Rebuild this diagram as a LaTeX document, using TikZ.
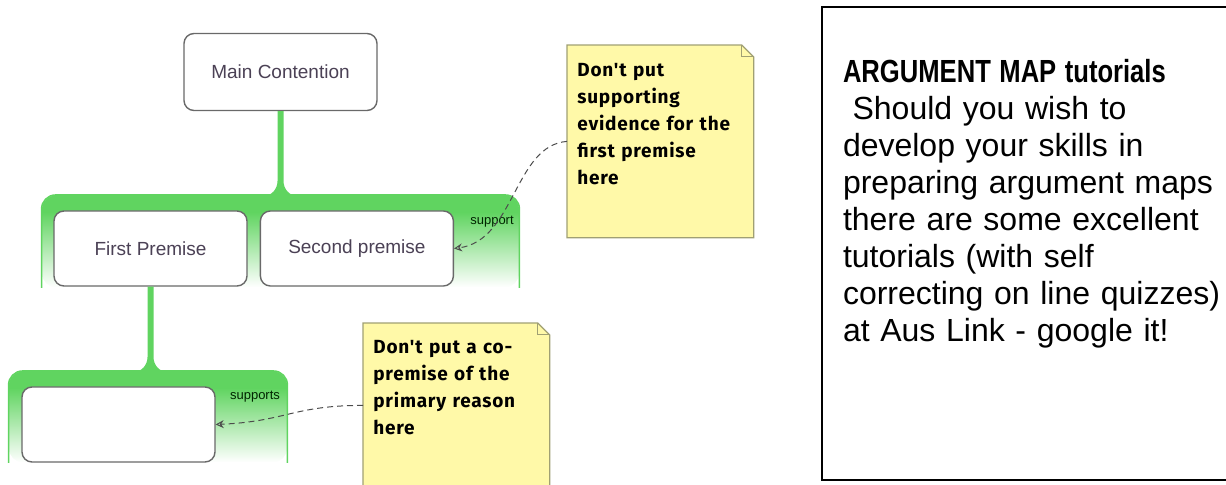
\documentclass[tikz,border=0pt]{standalone}
\usepackage{fontspec}
\setmainfont{Liberation Sans}
\newfontfamily\notefont[LetterSpace=4]{Fira Sans}
\usepackage{graphicx}
\usetikzlibrary{arrows.meta, calc, positioning}

\definecolor{grp}{RGB}{96,212,96}
\definecolor{notefill}{RGB}{255,249,168}
\definecolor{noteline}{RGB}{160,160,115}
\definecolor{boxline}{RGB}{105,105,105}
\definecolor{boxtext}{RGB}{75,65,85}

\pgfdeclareverticalshading{grpfade}{100bp}{color(0bp)=(white); color(25bp)=(white); color(66bp)=(grp); color(100bp)=(grp)}

% green stem from a claim down to its group
\newcommand{\stem}[2]{%
  \fill[grp] ($(#1.south)+(-3,0)$) -- ($(#1.south |- #2.north)+(-3,-14)$)
    to[out=-90,in=0] ($(#1.south |- #2.north)+(-17,1)$)
    -- ($(#1.south |- #2.north)+(17,1)$)
    to[out=180,in=-90] ($(#1.south |- #2.north)+(3,-14)$)
    -- ($(#1.south)+(3,0)$) -- cycle;}

% cut corner of a sticky note
\newcommand{\notefold}[1]{%
  \fill[white] ([xshift=-6pt]#1.north east) -- (#1.north east) -- ([yshift=-6pt]#1.north east) -- cycle;
  \draw[noteline, line width=0.6pt] (#1.south west) -- (#1.north west) -- ([xshift=-6pt]#1.north east)
    -- ([yshift=-6pt]#1.north east) -- (#1.south east) -- cycle;
  \draw[noteline, line width=0.5pt] ([xshift=-6pt]#1.north east) -- ([shift={(-6pt,-6pt)}]#1.north east)
    -- ([yshift=-6pt]#1.north east);}

\begin{document}
\begin{tikzpicture}[x=0.5pt, y=-0.5pt,
  argbox/.style={draw=boxline, line width=0.7pt, fill=white, rounded corners=5pt,
    minimum width=96.5pt, minimum height=37.5pt, inner sep=0pt, text=boxtext,
    font=\fontsize{9.5}{11}\selectfont},
  group/.style={anchor=north, shading=grpfade, rounded corners=7pt, inner sep=0pt},
  lbl/.style={text=black!65!green!40!black, inner sep=0pt, font=\fontsize{6.5}{7}\selectfont},
  note/.style={anchor=north west, fill=notefill, inner xsep=5pt, inner ysep=0pt,
    text width=83pt, align=left, font=\notefont\bfseries\fontsize{9.5}{13.5}\selectfont},
  tipline/.style={densely dashed, draw=black!70, line width=0.5pt,
    -{Stealth[open, length=4pt, width=4pt]}},
  panel/.style={anchor=north west, draw=black, line width=1pt, inner xsep=10.5pt,
    inner ysep=0pt, text width=200pt, align=left, text height=38pt, text depth=198.5pt,
    font=\fontsize{16}{18.5}\selectfont}]

  \useasboundingbox (0,0) rectangle (1226,485);

% define the green groups
  \node[group, minimum width=238.5pt, minimum height=46pt] (grpA) at (280.5,195) {};
  \node[group, minimum width=139pt, minimum height=45.5pt] (grpB) at (148,371) {};
  \foreach \g in {grpA, grpB}
    \draw[grp, line width=0.8pt, rounded corners=7pt] (\g.south west) -- (\g.north west)
      -- (\g.north east) -- (\g.south east);

% define the claims
  \node[argbox, minimum height=38.5pt] (main) at (280.5,72) {Main Contention};
  \node[argbox] (first) at (150.5,248.5) {First Premise};
  \node[argbox, right=6pt of first] (second) {Second premise};
  \node[argbox] (blank) at (118.5,424.5) {};

  \stem{main}{grpA}
  \stem{first}{grpB}

  \node[lbl] (lblA) at (492,222) {support};
  \node[lbl] (lblB) at (255,397) {supports};

% define the sticky notes
  \node[note, text height=15.5pt, text depth=80.5pt] (tipA) at (567,45)
    {Don't put\\ supporting\\ evidence for the\\ first premise\\ here};
  \notefold{tipA}
  \node[note, text height=15pt, text depth=67pt] (tipB) at (363,323)
    {Don't put a co-\\ premise of the\\ primary reason\\ here};
  \notefold{tipB}

% define the links
  \draw[tipline] (tipA.west) .. controls +(-53,4) and +(61,-8) .. (second.east);
  \draw[tipline] (tipB.west) .. controls +(-70,0) and +(70,-3) .. (blank.east);

% tutorial panel
  \node[panel] (info) at (821,6)
    {\scalebox{0.8}[1]{\bfseries ARGUMENT MAP tutorials}\\
     \hspace{0.3em}Should you wish to\\
     develop your skills in\\
     preparing argument maps\\
     there are some excellent\\
     tutorials (with self\\
     correcting on line quizzes)\\
     at Aus Link - google it!};

\end{tikzpicture}
\end{document}
